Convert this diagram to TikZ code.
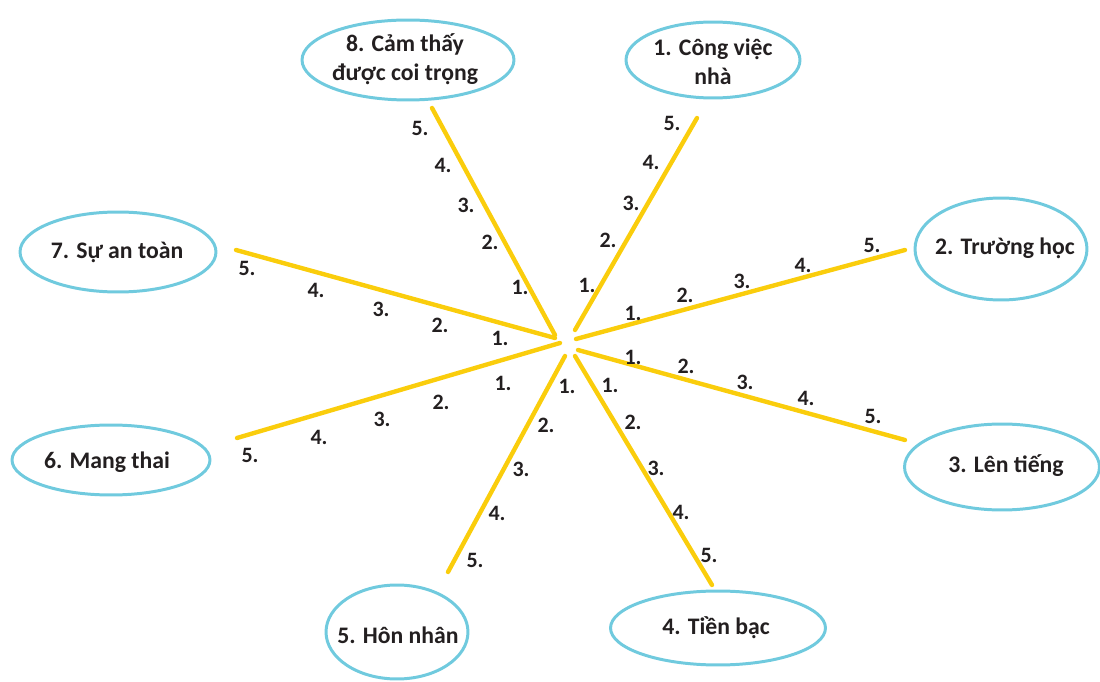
\documentclass[tikz,border=0pt]{standalone}
\usepackage{fontspec}
\setmainfont{Carlito}
\definecolor{ringblue}{RGB}{112,202,222}
\definecolor{spokeyellow}{RGB}{250,205,12}
\definecolor{inkgray}{RGB}{35,31,32}

\begin{document}
\begin{tikzpicture}
		[x=0.02cm,y=-0.02cm,
		topic/.style= {inner sep=0pt,align=center,text=inkgray,font=\fontsize{13.5}{16.5}\selectfont\bfseries},
		ring/.style= {draw=ringblue,line width=1.7pt},
		spoke/.style= {draw=spokeyellow,line width=2.5pt,line cap=round},
		num/.style= {text=inkgray,inner sep=1pt,font=\fontsize{12.5}{13}\selectfont\bfseries}]

		\useasboundingbox (0,0) rectangle (1100,682);

		% topics
		\node[topic] (e1) at (713,62) {1. Công việc\\nhà};
		\node[topic] (e2) at (1005,248) {2. Trường học};
		\node[topic] (e3) at (1006,466) {3. Lên tiếng};
		\node[topic] (e4) at (716,628) {4. Tiền bạc};
		\node[topic] (e5) at (398,635) {5. Hôn nhân};
		\node[topic] (e6) at (107,462) {6. Mang thai};
		\node[topic] (e7) at (117,252) {7. Sự an toàn};
		\node[topic] (e8) at (405,59) {8. Cảm thấy\\được coi trọng};

		\draw[ring] (713,60) ellipse [x radius=1.74cm,y radius=0.76cm];
		\draw[ring] (1001,249) ellipse [x radius=1.72cm,y radius=1.02cm];
		\draw[ring] (1002,467) ellipse [x radius=1.95cm,y radius=0.86cm];
		\draw[ring] (718,628) ellipse [x radius=2.15cm,y radius=0.74cm];
		\draw[ring] (397,632) ellipse [x radius=1.42cm,y radius=0.94cm];
		\draw[ring] (111,460) ellipse [x radius=1.98cm,y radius=0.7cm];
		\draw[ring] (118,252) ellipse [x radius=1.96cm,y radius=0.8cm];
		\draw[ring] (408,60) ellipse [x radius=2.12cm,y radius=0.8cm];

		% spoke ends
		\coordinate (c1) at (575,330); \coordinate (t1) at (697,118);
		\coordinate (c2) at (576,339); \coordinate (t2) at (905,250);
		\coordinate (c3) at (578,350); \coordinate (t3) at (905,440);
		\coordinate (c4) at (575,356); \coordinate (t4) at (712,585);
		\coordinate (c5) at (565,356); \coordinate (t5) at (448,572);
		\coordinate (c6) at (560,343); \coordinate (t6) at (237,438);
		\coordinate (c7) at (555,338); \coordinate (t7) at (236,250);
		\coordinate (c8) at (555,335); \coordinate (t8) at (432,108);

		\draw[spoke] (c1) -- (t1);
		\draw[spoke] (c2) -- (t2);
		\draw[spoke] (c3) -- (t3);
		\draw[spoke] (c4) -- (t4);
		\draw[spoke] (c5) -- (t5);
		\draw[spoke] (c6) -- (t6);
		\draw[spoke] (c7) -- (t7);
		\draw[spoke] (c8) -- (t8);

		% steps on each spoke
		\node[num] (a1) at (587,285) {1.}; \node[num] (a2) at (608,240) {2.}; \node[num] (a3) at (631,203) {3.}; \node[num] (a4) at (651,162) {4.}; \node[num] (a5) at (672,123) {5.};
		\node[num] (b1) at (633,313) {1.}; \node[num] (b2) at (685,295) {2.}; \node[num] (b3) at (742,281) {3.}; \node[num] (b4) at (803,265) {4.}; \node[num] (b5) at (872,245) {5.};
		\node[num] (d1) at (633,357) {1.}; \node[num] (d2) at (686,366) {2.}; \node[num] (d3) at (745,382) {3.}; \node[num] (d4) at (806,398) {4.}; \node[num] (d5) at (873,416) {5.};
		\node[num] (f1) at (610,385) {1.}; \node[num] (f2) at (633,422) {2.}; \node[num] (f3) at (656,468) {3.}; \node[num] (f4) at (681,512) {4.}; \node[num] (f5) at (709,555) {5.};
		\node[num] (g1) at (567,386) {1.}; \node[num] (g2) at (546,425) {2.}; \node[num] (g3) at (521,469) {3.}; \node[num] (g4) at (497,513) {4.}; \node[num] (g5) at (475,560) {5.};
		\node[num] (h1) at (503,383) {1.}; \node[num] (h2) at (441,402) {2.}; \node[num] (h3) at (382,419) {3.}; \node[num] (h4) at (319,437) {4.}; \node[num] (h5) at (250,455) {5.};
		\node[num] (k1) at (500,338) {1.}; \node[num] (k2) at (440,325) {2.}; \node[num] (k3) at (381,309) {3.}; \node[num] (k4) at (316,290) {4.}; \node[num] (k5) at (247,268) {5.};
		\node[num] (m1) at (520,287) {1.}; \node[num] (m2) at (490,242) {2.}; \node[num] (m3) at (466,205) {3.}; \node[num] (m4) at (443,165) {4.}; \node[num] (m5) at (420,128) {5.};

	\end{tikzpicture}
\end{document}
